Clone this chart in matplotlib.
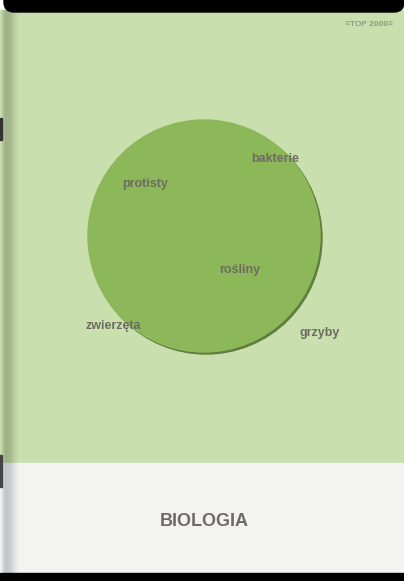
import numpy as np
import matplotlib
matplotlib.use("Agg")
import matplotlib.pyplot as plt
from matplotlib.patches import Circle, Rectangle, FancyBboxPatch

# cover texts
labels   = ["protisty", "bakterie", "rośliny", "zwierzęta", "grzyby"]
label_xy = [(145, 184), (275, 159), (240, 270), (113, 326), (320, 333)]
title    = "BIOLOGIA"
brand    = "≡TOP 2000≡"

W, H = 404, 581
BG_GREEN = "#c9dfae"
CIRCLE   = "#8db859"
SHADOW   = "#5f7d3d"
TEXT     = "#6e6c62"
PAPER    = "#f3f3f1"

fig = plt.figure(figsize=(W / 100, H / 100), dpi=100)
ax = fig.add_axes([0, 0, 1, 1])
ax.set_xlim(0, W); ax.set_ylim(H, 0)
ax.set_aspect("auto")
ax.axis("off")
fig.patch.set_facecolor("white")

# cover areas
ax.add_patch(Rectangle((0, 10), W, 453, color=BG_GREEN, zorder=1))
ax.add_patch(Rectangle((0, 463), W, 111, color=PAPER, zorder=1))

# spine shading on the left
grad = np.linspace(0, 1, 20)
alpha = np.interp(grad, [0, 0.25, 0.5, 0.8, 1], [0.0, 0.4, 0.35, 0.1, 0.0])
shade = np.zeros((1, 20, 4))
shade[..., :3] = [0.38, 0.42, 0.32]
shade[..., 3] = alpha
ax.imshow(shade, extent=(0, 20, 463, 10), aspect="auto", zorder=2, interpolation="bilinear")
shade2 = shade.copy()
shade2[..., :3] = [0.45, 0.50, 0.58]
ax.imshow(shade2, extent=(0, 20, 574, 463), aspect="auto", zorder=2, interpolation="bilinear")
ax.add_patch(Rectangle((0, 118), 2, 22, color="#333333", zorder=3))
ax.add_patch(Rectangle((0, 455), 2, 32, color="#444444", zorder=3))

# black edges
ax.add_patch(FancyBboxPatch((4, -10), W - 4, 22, boxstyle="round,pad=0,rounding_size=10",
                            color="black", zorder=4))
ax.add_patch(Rectangle((0, 573), W, 8, color="black", zorder=4))

# circle with shadow
ax.add_patch(Circle((206, 238), 116, color=SHADOW, zorder=5))
ax.add_patch(Circle((204, 236), 116, color=CIRCLE, zorder=6))

for lab, (x, y) in zip(labels, label_xy):
    ax.text(x, y, lab, ha="center", va="center", fontsize=9, fontweight="bold",
            color=TEXT, family=["Liberation Sans", "DejaVu Sans"], zorder=7)

ax.text(369, 25, brand, ha="center", va="center", fontsize=6, fontweight="bold",
        color="#8e9a82", family=["Liberation Sans", "DejaVu Sans"], zorder=7)
ax.text(204, 521, title, ha="center", va="center", fontsize=13, fontweight="bold",
        color=TEXT, family=["Liberation Sans", "DejaVu Sans"], zorder=7)

fig.savefig("out.png", dpi=100)
